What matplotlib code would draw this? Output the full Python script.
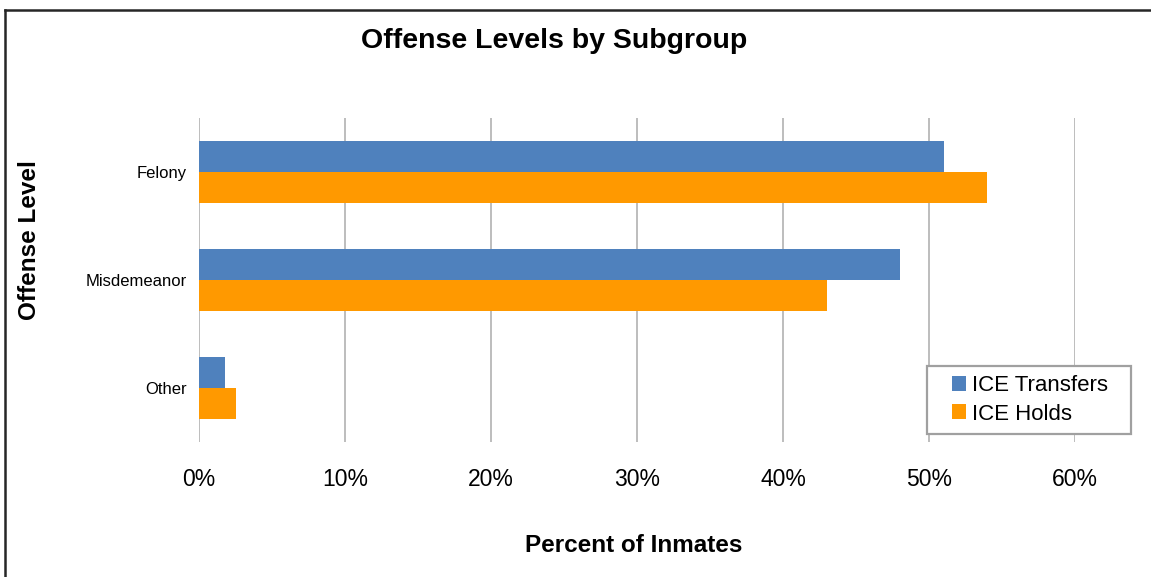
import matplotlib
matplotlib.use("Agg")
import matplotlib.pyplot as plt
from matplotlib.patches import Rectangle
from matplotlib.lines import Line2D
import numpy as np

plt.rcParams["font.family"] = ["Liberation Sans", "DejaVu Sans"]

categories = ["Felony", "Misdemeanor", "Other"]
series_names = ["ICE Transfers", "ICE Holds"]
ice_transfers = [0.51, 0.48, 0.018]
ice_holds = [0.54, 0.43, 0.025]
x_ticks = [0.0, 0.1, 0.2, 0.3, 0.4, 0.5, 0.6]
x_tick_labels = ["0%", "10%", "20%", "30%", "40%", "50%", "60%"]

colors = ["#4F81BD", "#FF9900"]

W, H = 1151, 577
fig = plt.figure(figsize=(W / 100, H / 100), dpi=100)
fig.patch.set_facecolor("white")


def fx(px):
    return px / W


def fy(py):
    return 1 - py / H


# axes placement in pixels
left, right, top, bottom = 199, 1075, 118, 442
ax = fig.add_axes([fx(left), fy(bottom), (right - left) / W, (bottom - top) / H])

y = np.arange(len(categories))
h = 0.287
ax.barh(y - h / 2, ice_transfers, height=h, color=colors[0], label=series_names[0], zorder=3)
ax.barh(y + h / 2, ice_holds, height=h, color=colors[1], label=series_names[1], zorder=3)

ax.set_ylim(len(categories) - 0.5, -0.5)
ax.set_xlim(0, 0.6)
ax.set_yticks(y)
ax.set_yticklabels(categories, fontsize=12)
ax.set_xticks(x_ticks)
ax.set_xticklabels(x_tick_labels, fontsize=16.5)
ax.tick_params(axis="both", length=0)
ax.tick_params(axis="y", pad=9)
ax.tick_params(axis="x", pad=19)
for s in ax.spines.values():
    s.set_visible(False)
ax.xaxis.grid(True, color="#BDBDBD", linewidth=1.4, zorder=0)
ax.set_axisbelow(True)

fig.text(fx(554), fy(41), "Offense Levels by Subgroup", fontsize=20.5,
         fontweight="bold", ha="center", va="center")
fig.text(fx(634), fy(545), "Percent of Inmates", fontsize=17.5,
         fontweight="bold", ha="center", va="center")
fig.text(fx(30), fy(240), "Offense Level", fontsize=17.5,
         fontweight="bold", ha="center", va="center", rotation=90)

# legend box, drawn on the axes above the grid
ax.add_patch(Rectangle((fx(927), fy(434)), (1131 - 927) / W, (434 - 366) / H,
                       transform=fig.transFigure, facecolor="white",
                       edgecolor="#A0A0A0", linewidth=1.6, zorder=5,
                       clip_on=False))
leg = ax.legend(loc="upper left", bbox_to_anchor=(fx(943), fy(366)),
                bbox_transform=fig.transFigure, fontsize=16, frameon=False,
                borderaxespad=0, handlelength=0.65, handleheight=0.65,
                handletextpad=0.25, borderpad=0.4, labelspacing=0.35)
leg.set_zorder(6)

# outer frame of the chart (top and left edges)
fig.lines.append(Line2D([fx(5), 1.0], [fy(10), fy(10)], transform=fig.transFigure,
                        color="#262626", linewidth=1.8, solid_capstyle="projecting"))
fig.lines.append(Line2D([fx(5), fx(5)], [0.0, fy(10)], transform=fig.transFigure,
                        color="#262626", linewidth=1.8, solid_capstyle="projecting"))

fig.savefig("out.png", dpi=100, facecolor="white")
